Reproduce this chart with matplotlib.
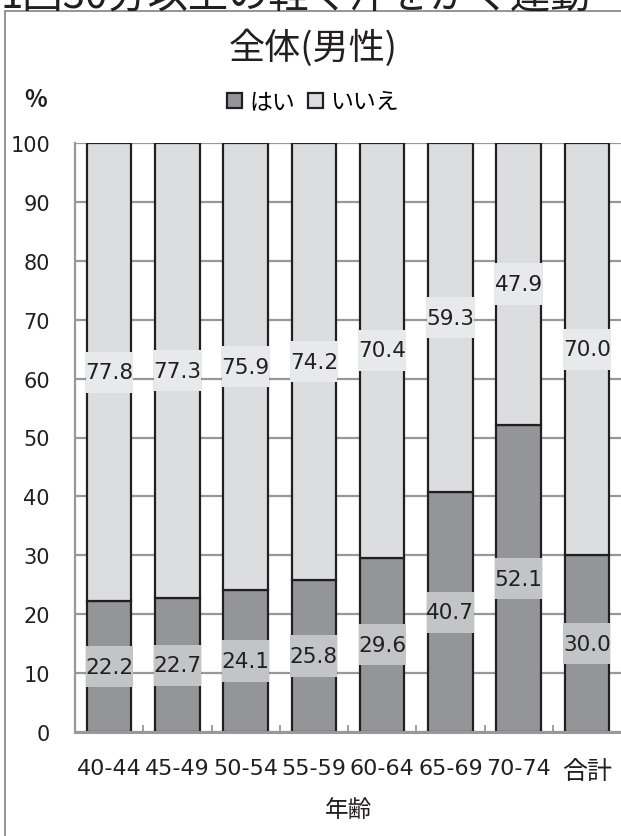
import matplotlib
matplotlib.use("Agg")
import matplotlib.pyplot as plt
import numpy as np
from matplotlib.patches import Rectangle

plt.rcParams['font.family'] = ['Noto Sans CJK JP', 'DejaVu Sans']
NUM_FONT = ['DejaVu Sans', 'Noto Sans CJK JP']

categories = ["40-44", "45-49", "50-54", "55-59", "60-64", "65-69", "70-74", "合計"]
yes_vals = [22.2, 22.7, 24.1, 25.8, 29.6, 40.7, 52.1, 30.0]
no_vals = [77.8, 77.3, 75.9, 74.2, 70.4, 59.3, 47.9, 70.0]
series_names = ["はい", "いいえ"]
yticks = [0, 10, 20, 30, 40, 50, 60, 70, 80, 90, 100]

W, H = 621, 837
fig = plt.figure(figsize=(W / 100, H / 100), dpi=100)

# cut-off heading at top
fig.text(0.0, 1 - 8 / H, "1回30分以上の軽く汗をかく運動", fontsize=29, color="#231f20",
         ha="left", va="baseline", zorder=0)
# chart area frame
fig.patches.append(Rectangle((5 / W, -0.1), 1.2, 1 - 12 / H + 0.1, transform=fig.transFigure,
                             facecolor="none", edgecolor="#8c8c8c", lw=1.3, zorder=0))

ax = fig.add_axes([75 / W, 1 - 733 / H, 1 - 75 / W, (733 - 144) / H])
ax.set_zorder(2)
ax.set_facecolor("none")
x = np.arange(len(categories))
bw = 0.65
yes_color = "#939598"
no_color = "#dcdddf"
edge = "#231f20"

b1 = ax.bar(x, yes_vals, bw, color=yes_color, edgecolor=edge, lw=1.6, zorder=2, label=series_names[0])
b2 = ax.bar(x, no_vals, bw, bottom=yes_vals, color=no_color, edgecolor=edge, lw=1.6, zorder=2,
            label=series_names[1])

box_h = 7.0
lab_fs = 15.5
for i in range(len(categories)):
    cy = yes_vals[i] / 2
    ax.bar(x[i], box_h, bw + 0.04, bottom=cy - box_h / 2, color="#c3c4c6", lw=0, zorder=3)
    ax.text(x[i], cy, f"{yes_vals[i]:.1f}", ha="center", va="center", fontsize=lab_fs,
            family=NUM_FONT, color="#231f20", zorder=4)
    cy2 = yes_vals[i] + no_vals[i] / 2
    ax.bar(x[i], box_h, bw + 0.04, bottom=cy2 - box_h / 2, color="#e8e9ea", lw=0, zorder=3)
    ax.text(x[i], cy2, f"{no_vals[i]:.1f}", ha="center", va="center", fontsize=lab_fs,
            family=NUM_FONT, color="#231f20", zorder=4)

ax.set_xlim(-0.5, len(categories) - 0.5)
ax.set_ylim(0, 100)
ax.set_yticks(yticks)
ax.yaxis.grid(True, color="#989898", lw=1.6, zorder=1)
ax.set_axisbelow(True)
ax.tick_params(axis="y", length=0, labelsize=15, pad=18, labelcolor="#231f20")
ax.set_xticks(x)
ax.set_xticklabels(categories)
ax.set_xticks(np.arange(0.5, len(categories) - 0.5, 1), minor=True)
ax.tick_params(axis="x", which="major", length=0, labelsize=16, pad=19, labelcolor="#231f20")
ax.tick_params(axis="x", which="minor", direction="in", length=5, color="#989898", width=1.3)
for lab in ax.get_xticklabels() + ax.get_yticklabels():
    lab.set_family(NUM_FONT)
for lab in ax.get_xticklabels():
    if not lab.get_text()[0].isdigit():
        lab.set_fontsize(18)
        lab.set_family(['Noto Sans CJK JP', 'DejaVu Sans'])
for s in ["top", "right"]:
    ax.spines[s].set_visible(False)
ax.spines["left"].set_color("#989898")
ax.spines["left"].set_linewidth(1.6)
ax.spines["bottom"].set_color("#989898")
ax.spines["bottom"].set_linewidth(2.2)
ax.set_xlabel("年齢", fontsize=17, labelpad=10, color="#231f20")

fig.text(313 / W, 1 - 48 / H, "全体(男性)", fontsize=26, ha="center", va="center", color="#231f20")
fig.text(36 / W, 1 - 100 / H, "%", fontsize=17, fontweight="bold", ha="center", va="center",
         color="#231f20")
fig.legend(handles=[b1, b2], labels=series_names, loc="center", bbox_to_anchor=(313 / W, 1 - 103 / H),
           ncol=2, frameon=False, fontsize=16.5, handlelength=0.65, handleheight=0.65,
           handletextpad=0.3, columnspacing=0.6, borderpad=0)

fig.savefig("out.png", dpi=100)
